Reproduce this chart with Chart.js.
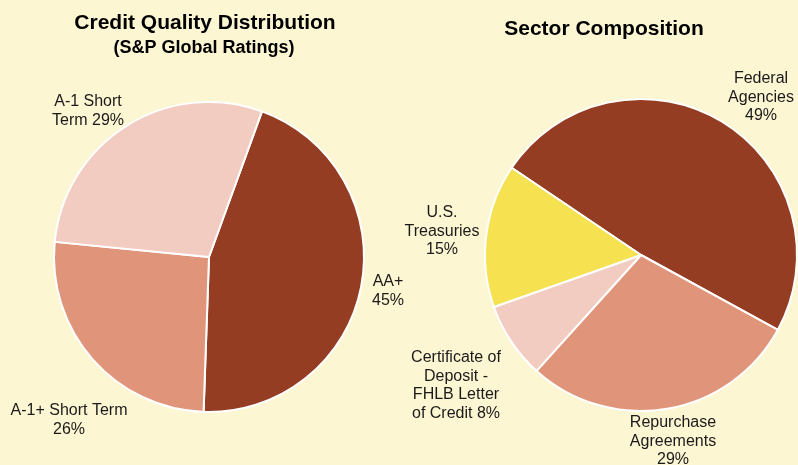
<!DOCTYPE html>
<html><head><meta charset="utf-8">
<script src="https://cdn.jsdelivr.net/npm/chart.js@4.4.0/dist/chart.umd.min.js"></script>
<style>
html,body{margin:0;padding:0;width:798px;height:465px;overflow:hidden;background:#FDF6D3;}
#wrap{position:relative;width:798px;height:465px;overflow:hidden;}
#c1{position:absolute;left:0;top:0;}
#c2{position:absolute;left:380px;top:0;}
</style></head><body>
<div id="wrap">
<canvas id="c1" width="418" height="465"></canvas>
<canvas id="c2" width="522" height="465"></canvas>
</div>
<script>
// ---- data ----
const creditCategories = ["AA+", "A-1+ Short Term", "A-1 Short Term"];
const creditValues = [45, 26, 29];
const sectorCategories = ["Federal Agencies", "Repurchase Agreements", "Certificate of Deposit - FHLB Letter of Credit", "U.S. Treasuries"];
const sectorValues = [49, 29, 8, 15];

const creditColors = ["#943D22", "#E0957A", "#F2CCC0"];
const sectorColors = ["#943D22", "#E0957A", "#F2CCC0", "#F6E150"];

// label text lines (wrapped as in the reference)
const creditLabelLines = [
  ["AA+", creditValues[0] + "%"],
  ["A-1+ Short Term", creditValues[1] + "%"],
  ["A-1 Short", "Term " + creditValues[2] + "%"]
];
const sectorLabelLines = [
  ["Federal", "Agencies", sectorValues[0] + "%"],
  ["Repurchase", "Agreements", sectorValues[1] + "%"],
  ["Certificate of", "Deposit -", "FHLB Letter", "of Credit " + sectorValues[2] + "%"],
  ["U.S.", "Treasuries", sectorValues[3] + "%"]
];

// text placement (canvas coordinates)
const C2X = 380;
const creditLabelPos = [[388, 282], [69, 411], [88, 102]];
const sectorLabelPos = [[761 - C2X, 79], [673 - C2X, 423], [456 - C2X, 358], [442 - C2X, 213]];

const LABEL_FONT = '16px "Liberation Sans", Arial, sans-serif';
const TITLE_FONT = 'bold 21px "Liberation Sans", Arial, sans-serif';
const SUB_FONT = 'bold 18px "Liberation Sans", Arial, sans-serif';

const textPlugin = {
  id: 'pieText',
  afterDraw(chart, args, opts) {
    const ctx = chart.ctx;
    ctx.save();
    ctx.textAlign = 'center';
    ctx.textBaseline = 'middle';
    (opts.titles || []).forEach(t => {
      ctx.font = t.font;
      ctx.fillStyle = '#000';
      ctx.fillText(t.text, t.x, t.y);
    });
    ctx.font = LABEL_FONT;
    ctx.fillStyle = '#1a1a1a';
    (opts.labels || []).forEach((lines, i) => {
      const [x, y] = opts.pos[i];
      lines.forEach((ln, j) => ctx.fillText(ln, x, y + j * 18.4));
    });
    ctx.restore();
  }
};

function makePie(id, cats, vals, colors, rotation, padding, titles, labels, pos) {
  return new Chart(document.getElementById(id), {
    type: 'pie',
    data: {
      labels: cats,
      datasets: [{ data: vals, backgroundColor: colors, borderColor: '#ffffff', borderWidth: 2, hoverOffset: 0 }]
    },
    options: {
      responsive: false,
      animation: false,
      events: [],
      rotation: rotation,
      layout: { padding: padding },
      plugins: {
        legend: { display: false },
        tooltip: { enabled: false },
        title: { display: false },
        pieText: { titles: titles, labels: labels, pos: pos }
      }
    },
    plugins: [textPlugin]
  });
}

makePie('c1', creditCategories, creditValues, creditColors, 20,
  { top: 101, bottom: 52, left: 0, right: 0 },
  [
    { text: 'Credit Quality Distribution', x: 205, y: 23, font: TITLE_FONT },
    { text: '(S&P Global Ratings)', x: 204, y: 48, font: SUB_FONT }
  ],
  creditLabelLines, creditLabelPos);

makePie('c2', sectorCategories, sectorValues, sectorColors, 304,
  { top: 98, bottom: 53, left: 0, right: 0 },
  [
    { text: 'Sector Composition', x: 604 - C2X, y: 29, font: TITLE_FONT }
  ],
  sectorLabelLines, sectorLabelPos);
</script>
</body></html>
